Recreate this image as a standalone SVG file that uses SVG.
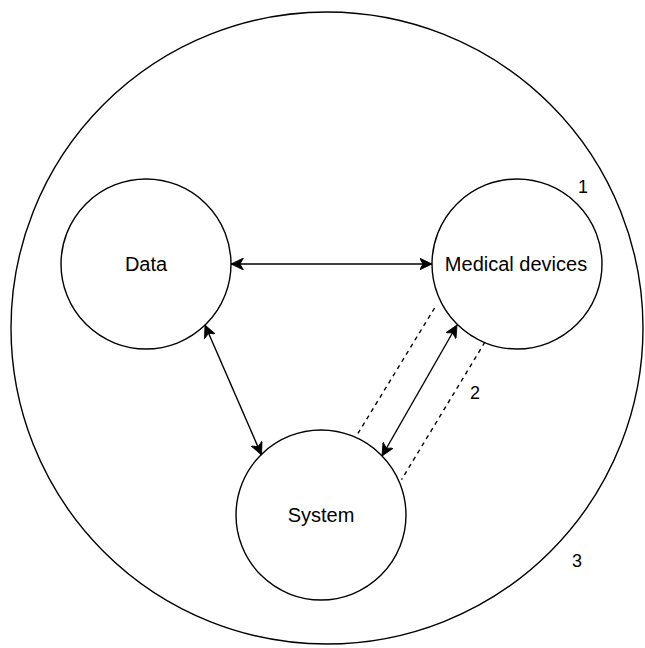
<svg xmlns="http://www.w3.org/2000/svg" width="645" height="648" viewBox="0 0 645 648">
  <style>
    .node { fill: #ffffff; stroke: #000000; stroke-width: 1.4; }
    .outer { fill: #ffffff; stroke: #000000; stroke-width: 1.4; }
    .label { font-family: "Liberation Sans", Arial, Helvetica, sans-serif; font-size: 20px; fill: #000000; text-anchor: middle; }
    .num { font-family: "Liberation Sans", Arial, Helvetica, sans-serif; font-size: 18px; fill: #000000; text-anchor: middle; }
    .edge { fill: none; stroke: #000000; stroke-width: 1.4; }
    .dashed { fill: none; stroke: #000000; stroke-width: 1.4; stroke-dasharray: 4.2 4.2; }
  </style>
  <defs>
    <marker id="arrow" viewBox="0 0 13 12" refX="12.5" refY="6" markerWidth="13" markerHeight="12" markerUnits="userSpaceOnUse" orient="auto-start-reverse">
      <path d="M12.5,6 L0,0 L3.5,6 L0,12 Z" fill="#000000" stroke="#000000" stroke-width="0.8" stroke-linejoin="miter"/>
    </marker>
  </defs>
  <rect width="645" height="648" fill="#ffffff"/>
  <g id="outer">
    <circle class="outer" cx="327" cy="328" r="316"/>
  </g>
  <g id="node-data">
    <circle class="node" cx="146" cy="264" r="85"/>
    <text class="label" x="146" y="271">Data</text>
  </g>
  <g id="node-medical">
    <circle class="node" cx="517" cy="264" r="85"/>
    <text class="label" x="516" y="271">Medical devices</text>
  </g>
  <g id="node-system">
    <circle class="node" cx="321" cy="515" r="85"/>
    <text class="label" x="321" y="522">System</text>
  </g>
  <g id="connectors">
    <line class="edge" x1="231" y1="264" x2="432" y2="264" marker-start="url(#arrow)" marker-end="url(#arrow)"/>
    <line class="edge" x1="205" y1="325" x2="261.5" y2="455" marker-start="url(#arrow)" marker-end="url(#arrow)"/>
    <line class="edge" x1="457" y1="325" x2="382" y2="456" marker-start="url(#arrow)" marker-end="url(#arrow)"/>
    <line class="dashed" x1="434.6" y1="308" x2="357.3" y2="434.5"/>
    <line class="dashed" x1="485" y1="342" x2="401.5" y2="479.7"/>
  </g>
  <g id="labels">
    <text class="num" x="583" y="192.5">1</text>
    <text class="num" x="475" y="398.5">2</text>
    <text class="num" x="577" y="566.5">3</text>
  </g>
</svg>
